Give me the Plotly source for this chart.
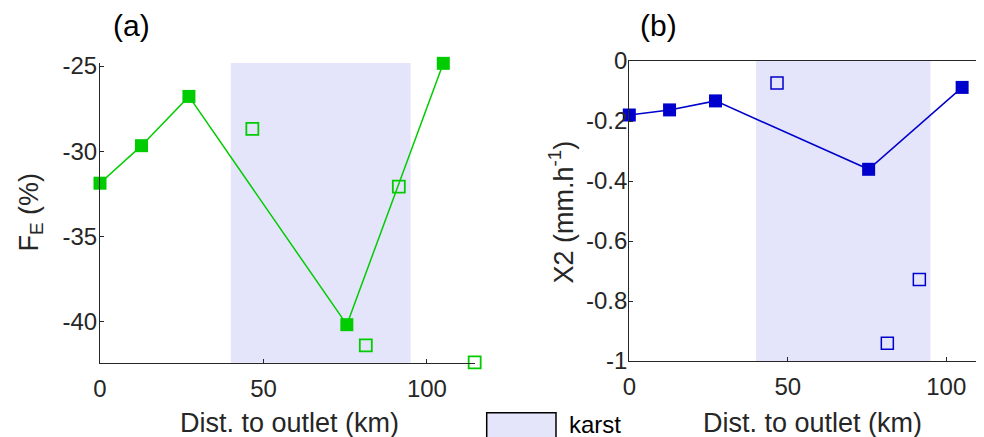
import plotly.graph_objects as go

# ---------------- data ----------------
dist_filled = [0, 12.7, 27.2, 75.5, 105]
fe_filled = [-31.87, -29.67, -26.78, -40.17, -24.84]
dist_open_a = [46.6, 81.3, 91.4, 114.6]
fe_open = [-28.69, -41.38, -32.07, -42.38]

x2_filled = [-0.180, -0.163, -0.133, -0.361, -0.088]
dist_open_b = [46.6, 81.4, 91.5]
x2_open = [-0.073, -0.941, -0.728]

karst_start, karst_end = 40, 95

a_ytick_vals = [-40, -35, -30, -25]
a_ytick_text = ["-40", "-35", "-30", "-25"]
b_ytick_vals = [-1, -0.8, -0.6, -0.4, -0.2, 0]
b_ytick_text = ["-1", "-0.8", "-0.6", "-0.4", "-0.2", "0"]
xtick_vals = [0, 50, 100]
xtick_text = ["0", "50", "100"]

# ---------------- style ----------------
W, H = 984, 437
OFF = 8  # default page body margin
GREEN = "#00CC00"
BLUE = "#0000CC"
SHADE = "rgb(228,228,251)"
AXC = "#262626"
FONT = "Liberation Sans, Arial, sans-serif"


def px(x):
    return (x - OFF) / W


def py(y):
    return 1 - (y - OFF) / H


fig = go.Figure()

fig.add_trace(go.Scatter(x=dist_filled, y=fe_filled, mode="lines+markers",
                         line=dict(color=GREEN, width=1.5),
                         marker=dict(symbol="square", size=13, color=GREEN),
                         cliponaxis=False, xaxis="x", yaxis="y", showlegend=False))
fig.add_trace(go.Scatter(x=dist_open_a, y=fe_open, mode="markers",
                         marker=dict(symbol="square-open", size=12, color=GREEN,
                                     line=dict(width=1.8, color=GREEN)),
                         cliponaxis=False, xaxis="x", yaxis="y", showlegend=False))
fig.add_trace(go.Scatter(x=dist_filled, y=x2_filled, mode="lines+markers",
                         line=dict(color=BLUE, width=1.5),
                         marker=dict(symbol="square", size=13, color=BLUE),
                         cliponaxis=False, xaxis="x2", yaxis="y2", showlegend=False))
fig.add_trace(go.Scatter(x=dist_open_b, y=x2_open, mode="markers",
                         marker=dict(symbol="square-open", size=12, color=BLUE,
                                     line=dict(width=1.5, color=BLUE)),
                         cliponaxis=False, xaxis="x2", yaxis="y2", showlegend=False))

axis_common = dict(showgrid=False, zeroline=False, showline=True, linecolor=AXC,
                   linewidth=1.2, ticks="inside", ticklen=4, tickwidth=1, tickcolor=AXC,
                   tickfont=dict(family=FONT, size=24, color=AXC), automargin=False,
                   fixedrange=True)

fig.update_layout(
    width=W, height=H, template="none",
    margin=dict(l=0, r=0, t=0, b=0),
    paper_bgcolor="white", plot_bgcolor="rgba(0,0,0,0)",
    xaxis=dict(domain=[px(100), px(475)], range=[0, 114.7], anchor="y",
               tickvals=xtick_vals, ticktext=xtick_text, ticklabelstandoff=4, **axis_common),
    yaxis=dict(domain=[py(362.7), py(63)], range=[-42.4, -24.82], anchor="x",
               tickvals=a_ytick_vals, ticktext=a_ytick_text, ticklabelstandoff=-3, **axis_common),
    xaxis2=dict(domain=[px(629.3), px(984)], range=[0, 111.9], anchor="y2", mirror=True,
                tickvals=xtick_vals, ticktext=xtick_text, ticklabelstandoff=4, **axis_common),
    yaxis2=dict(domain=[py(361), py(61)], range=[-1, 0], anchor="x2",
                tickvals=b_ytick_vals, ticktext=b_ytick_text, ticklabelstandoff=-4, **axis_common),
)

# karst shading
for xr, yr in (("x", "y domain"), ("x2", "y2 domain")):
    fig.add_shape(type="rect", xref=xr, yref=yr, x0=karst_start, x1=karst_end, y0=0, y1=1,
                  fillcolor=SHADE, line=dict(width=0), layer="below")

# legend box
fig.add_shape(type="rect", xref="paper", yref="paper", x0=px(486.7), x1=px(556),
              y0=py(450), y1=py(412.7), fillcolor=SHADE, line=dict(color="black", width=1.5))

ann = []
ann.append(dict(text="karst", x=px(567), y=py(424), xanchor="left", yanchor="middle",
                font=dict(family=FONT, size=24, color="black")))
ann.append(dict(text="(a)", x=px(131.7), y=py(26), xanchor="center", yanchor="middle",
                font=dict(family=FONT, size=30, color="black")))
ann.append(dict(text="(b)", x=px(658), y=py(26), xanchor="center", yanchor="middle",
                font=dict(family=FONT, size=30, color="black")))
ann.append(dict(text="Dist. to outlet (km)", x=px(289), y=py(423), xanchor="center",
                yanchor="middle", font=dict(family=FONT, size=27, color=AXC)))
ann.append(dict(text="Dist. to outlet (km)", x=px(812), y=py(423), xanchor="center",
                yanchor="middle", font=dict(family=FONT, size=27, color=AXC)))
ann.append(dict(text="F<sub>E</sub> (%)", x=px(30), y=py(212.5), xanchor="center",
                yanchor="middle", textangle=-90, font=dict(family=FONT, size=27, color=AXC)))
ann.append(dict(text="X2 (mm.h<sup>-1</sup>)", x=px(561), y=py(212.5), xanchor="center",
                yanchor="middle", textangle=-90, font=dict(family=FONT, size=27, color=AXC)))
for a in ann:
    a.update(xref="paper", yref="paper", showarrow=False)
fig.update_layout(annotations=ann)

fig.write_html("out.html")
